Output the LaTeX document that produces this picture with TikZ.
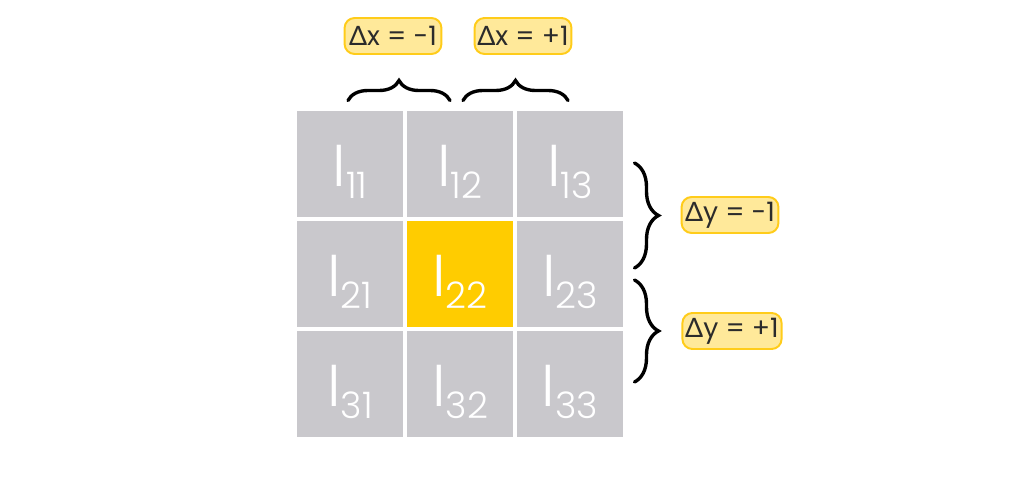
\documentclass[tikz,border=0pt]{standalone}
\usepackage{fontspec}
\setmainfont{Poppins}
\newfontfamily\thinfont{Poppins Light}
\newfontfamily\deltafont{Lato}
\usetikzlibrary{decorations.pathreplacing}

\definecolor{cellgray}{HTML}{C9C8CC}
\definecolor{cellyellow}{HTML}{FFCC00}
\definecolor{tagfill}{HTML}{FFE99A}
\definecolor{tagdraw}{HTML}{FFCC1A}
\definecolor{tagtext}{HTML}{2B2B2B}

\newcommand{\pix}[2]{{\fontsize{42}{42}\selectfont I}\raisebox{-0.3cm}{\fontsize{26}{26}\selectfont #1#2}}
\newcommand{\dlt}{{\deltafont Δ}}

\begin{document}
\begin{tikzpicture}[x=0.025cm, y=-0.025cm,
    cell/.style={rectangle, minimum size=2.66cm, inner sep=0pt, text=white,
        text height=1.4cm, text depth=0.3cm, fill=cellgray, font=\thinfont},
    tag/.style={rectangle, rounded corners=0.25cm, fill=tagfill, draw=tagdraw,
        line width=1.4pt, minimum width=2.42cm, minimum height=0.9cm, inner sep=2pt,
        text=tagtext, font=\fontsize{19}{19}\selectfont},
    curly/.style={decorate, decoration={brace, amplitude=#1}, line width=2.4pt, line cap=round}]
    \useasboundingbox (0,0) rectangle (1024,478);

    % pixels
    \node[cell] (c11) at (350,164) {\pix11};
    \node[cell] (c12) at (460,164) {\pix12};
    \node[cell] (c13) at (570,164) {\pix13};
    \node[cell] (c21) at (350,274) {\pix21};
    \node[cell, fill=cellyellow] (c22) at (460,274) {\pix22};
    \node[cell] (c23) at (570,274) {\pix23};
    \node[cell] (c31) at (350,384) {\pix31};
    \node[cell] (c32) at (460,384) {\pix32};
    \node[cell] (c33) at (570,384) {\pix33};

    % braces
    \draw[curly=0.5cm] ([shift={(-2,-10)}]c11.north) -- ([shift={(-10,-10)}]c12.north);
    \draw[curly=0.5cm] ([shift={(3,-10)}]c12.north) -- ([shift={(-2,-10)}]c13.north);
    \draw[curly=0.6cm] ([shift={(11,-1)}]c13.east) -- ([shift={(11,-6)}]c23.east);
    \draw[curly=0.6cm] ([shift={(11,6)}]c23.east) -- ([shift={(11,-2)}]c33.east);

    % offsets
    \node[tag] (dxm) at (393,36) {\dlt x = -1};
    \node[tag] (dxp) at (523,36) {\dlt x = +1};
    \node[tag] (dym) at (730,215) {\dlt y = -1};
    \node[tag] (dyp) at (732,331) {\dlt y = +1};
\end{tikzpicture}
\end{document}
